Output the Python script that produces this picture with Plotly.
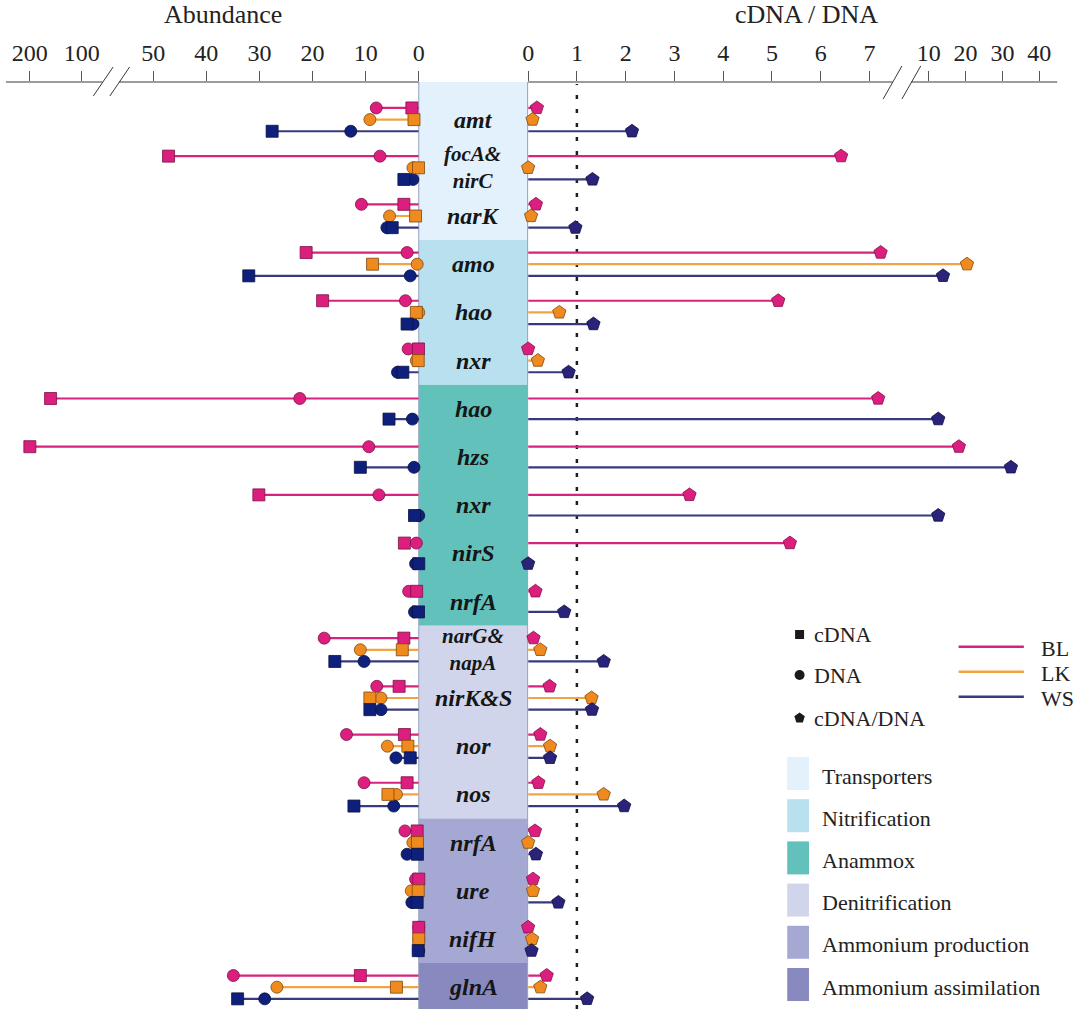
import plotly.graph_objects as go

W, H = 1080, 1009

# ---------------- data ----------------
genes = ["amt", "focA&<br>nirC", "narK", "amo", "hao", "nxr",
         "hao", "hzs", "nxr", "nirS", "nrfA",
         "narG&<br>napA", "nirK&S", "nor", "nos",
         "nrfA", "ure", "nifH", "glnA"]
gene_category = (["Transporters"] * 3 + ["Nitrification"] * 3 + ["Anammox"] * 5 +
                 ["Denitrification"] * 4 + ["Ammonium production"] * 3 +
                 ["Ammonium assimilation"])
categories = ["Transporters", "Nitrification", "Anammox", "Denitrification",
              "Ammonium production", "Ammonium assimilation"]
category_colors = ["#E2F1FB", "#B9E0EF", "#63C1BC", "#D0D5EB", "#A6A8D4", "#8789BF"]

left_ticks = [200, 100, 50, 40, 30, 20, 10, 0]
right_ticks = [0, 1, 2, 3, 4, 5, 6, 7, 10, 20, 30, 40]

sites = ["BL", "LK", "WS"]

BL_cDNA = [1.3, 47.1, 2.8, 21.2, 18.1, 0.05, 160, 200, 30.1, 2.7, 0.4, 2.8, 3.7, 2.7, 2.2, 0.3, 0.0, 0.0, 11.0]
BL_DNA = [8.0, 7.3, 10.8, 2.2, 2.5, 2.0, 22.4, 9.4, 7.5, 0.45, 1.9, 17.8, 7.9, 13.6, 10.3, 2.6, 0.6, 0.0, 34.9]
BL_ratio = [0.18, 6.42, 0.16, 7.23, 5.13, 0.0, 7.18, 18.2, 3.31, 5.37, 0.15, 0.11, 0.44, 0.25, 0.21, 0.14, 0.10, 0.0, 0.38]

LK_cDNA = [0.9, 0.05, 0.6, 8.7, 0.45, 0.1, None, None, None, None, None, 3.1, 9.2, 2.05, 5.8, 0.25, 0.1, 0.0, 4.2]
LK_DNA = [9.2, 1.1, 5.5, 0.3, 0.0, 0.45, None, None, None, None, None, 11.0, 7.1, 5.9, 4.2, 1.1, 1.4, 0.0, 26.7]
LK_ratio = [0.09, 0.0, 0.06, 20.4, 0.64, 0.2, None, None, None, None, None, 0.25, 1.30, 0.45, 1.55, 0.0, 0.10, 0.08, 0.25]

WS_cDNA = [27.6, 2.8, 5.0, 32.0, 2.2, 3.0, 5.6, 11.0, 0.8, 0.0, 0.05, 15.8, 9.2, 1.6, 12.2, 0.25, 0.3, 0.1, 34.1]
WS_DNA = [12.8, 1.1, 6.0, 1.6, 1.1, 4.0, 1.2, 0.9, 0.0, 0.6, 0.8, 10.3, 7.1, 4.3, 4.7, 2.2, 1.3, 0.0, 29.0]
WS_ratio = [2.13, 1.32, 0.97, 13.9, 1.34, 0.83, 12.6, 32.3, 12.6, 0.0, 0.74, 1.55, 1.31, 0.45, 1.97, 0.16, 0.62, 0.07, 1.21]

site_data = {
    "BL": (BL_cDNA, BL_DNA, BL_ratio),
    "LK": (LK_cDNA, LK_DNA, LK_ratio),
    "WS": (WS_cDNA, WS_DNA, WS_ratio),
}

# ---------------- style ----------------
FONT = "Liberation Serif"
TXT = "#222222"
site_line = {"BL": "#D7237F", "LK": "#F2A443", "WS": "#383A7C"}
site_fill = {"BL": "#DC1E7E", "LK": "#EE8A1E", "WS": "#0F207C"}
site_pent = {"BL": "#DC1E7E", "LK": "#EE8A1E", "WS": "#2B2379"}
site_edge = {"BL": "#7E1046", "LK": "#80470E", "WS": "#0A1240"}

# broken-axis scales (axis units)
PX_L = 5.372   # px per unit, left linear part
PX_R = 49.3    # px per unit, right linear part
X_L0 = 417.4   # px of left zero
X_R0 = 528.0   # px of right zero
X_R1 = 1063.0  # right axis end


def left_t(v):
    if v <= 60:
        return v
    return 63.46 + (v - 100) * 0.0975


def right_t(v):
    if v <= 8:
        return v
    return 8.215 + (v - 10) * 0.0757


ROW0, ROWH, TOP = 119.6, 48.2, 82.0
Y_TOP = (TOP - ROW0) / ROWH
Y_BOT = (H - ROW0) / ROWH


def row_y(i, site):
    if gene_category[i] == "Anammox":
        return i + {"BL": -0.214, "WS": 0.214}[site]
    return i + {"BL": -0.242, "LK": 0.0, "WS": 0.242}[site]


fig = go.Figure()

# lines (left: to farthest marker, right: to ratio)
for s in sites:
    c, d, r = site_data[s]
    xl, yl, xr, yr = [], [], [], []
    for i in range(len(genes)):
        if c[i] is None:
            continue
        yy = row_y(i, s)
        xl += [0, left_t(max(c[i], d[i])), None]
        yl += [yy, yy, None]
        xr += [0, right_t(r[i]), None]
        yr += [yy, yy, None]
    fig.add_trace(go.Scatter(x=xl, y=yl, mode="lines", xaxis="x", yaxis="y",
                             line=dict(color=site_line[s], width=2.2),
                             cliponaxis=False, hoverinfo="skip"))
    fig.add_trace(go.Scatter(x=xr, y=yr, mode="lines", xaxis="x2", yaxis="y",
                             line=dict(color=site_line[s], width=2.2),
                             cliponaxis=False, hoverinfo="skip"))

# DNA circles, cDNA squares, ratio pentagons
for kind, symbol, size in [("DNA", "circle", 12), ("cDNA", "square", 12)]:
    for s in sites:
        c, d, r = site_data[s]
        vals = d if kind == "DNA" else c
        xs, ys = [], []
        for i in range(len(genes)):
            if vals[i] is None:
                continue
            xs.append(left_t(vals[i]))
            ys.append(row_y(i, s))
        fig.add_trace(go.Scatter(x=xs, y=ys, mode="markers", xaxis="x", yaxis="y",
                                 marker=dict(symbol=symbol, size=size, color=site_fill[s],
                                             line=dict(color=site_edge[s], width=0.8)),
                                 cliponaxis=False, name=f"{s} {kind}"))

for s in sites:
    c, d, r = site_data[s]
    xs, ys = [], []
    for i in range(len(genes)):
        if r[i] is None:
            continue
        xs.append(right_t(r[i]))
        ys.append(row_y(i, s))
    fig.add_trace(go.Scatter(x=xs, y=ys, mode="markers", xaxis="x2", yaxis="y",
                             marker=dict(symbol="pentagon", size=14, color=site_pent[s],
                                         line=dict(color=site_edge[s], width=0.8)),
                             cliponaxis=False, name=f"{s} cDNA/DNA"))

# legend symbols on an overlay pixel axis
for sym, yy, sz in [("square", 634.5, 9), ("circle", 675, 10), ("pentagon", 718, 11)]:
    fig.add_trace(go.Scatter(x=[802.5], y=[yy], mode="markers", xaxis="x3", yaxis="y3",
                             marker=dict(symbol=sym, size=sz, color="#1a1a1a"),
                             hoverinfo="skip"))


def px(x):
    return x / W


def py(y):
    return 1 - y / H


shapes = []
annotations = []

# center strip by category
bounds = [Y_TOP]
for k in range(1, len(gene_category)):
    if gene_category[k] != gene_category[k - 1]:
        bounds.append(k - 0.5)
bounds.append(Y_BOT)
for k, cat in enumerate(categories):
    shapes.append(dict(type="rect", xref="paper", yref="y", x0=px(X_L0), x1=px(527.5),
                       y0=bounds[k], y1=bounds[k + 1], fillcolor=category_colors[k],
                       line=dict(width=0), layer="below"))
for xe in (X_L0, 527.5):
    shapes.append(dict(type="line", xref="paper", yref="paper", x0=px(xe), x1=px(xe),
                       y0=0, y1=py(TOP), line=dict(color="#93A2BF", width=1), layer="below"))

# dotted reference line at ratio = 1
shapes.append(dict(type="line", xref="x2", yref="paper", x0=1, x1=1, y0=0, y1=py(TOP + 2),
                   line=dict(color="#1e1e1e", width=2.5, dash="4px,10px"), layer="below"))

# axis lines with breaks
for a, b in [(0, 97.7), (114.4, X_L0), (X_R0, 896.7), (915.5, X_R1)]:
    shapes.append(dict(type="line", xref="paper", yref="paper", x0=px(a), x1=px(b),
                       y0=py(TOP), y1=py(TOP), line=dict(color="#3a3a3a", width=1.2)))
for (x0, y0, x1, y1) in [(88.3, 96, 108.3, 67), (105, 96, 125, 67),
                         (887, 99, 906, 66), (906, 99, 925, 66)]:
    shapes.append(dict(type="line", xref="paper", yref="paper", x0=px(x0), x1=px(x1),
                       y0=py(y0), y1=py(y1), line=dict(color="#3a3a3a", width=1)))

# gene labels
for i, g in enumerate(genes):
    parts = g.split("<br>")
    txt = "<br>".join(f"<b><i>{p}</i></b>" for p in parts)
    annotations.append(dict(x=px(472.5), xref="paper", y=i, yref="y",
                            text=txt, showarrow=False,
                            font=dict(family=FONT, size=24 if len(parts) == 1 else 21,
                                      color="#161616"),
                            xanchor="center", yanchor="middle"))

# axis titles
annotations.append(dict(x=px(219.5), y=py(15), xref="paper", yref="paper", text="Abundance",
                        showarrow=False, xanchor="center", yanchor="middle",
                        font=dict(family=FONT, size=26, color=TXT)))
annotations.append(dict(x=px(809), y=py(15), xref="paper", yref="paper", text="cDNA / DNA",
                        showarrow=False, xanchor="center", yanchor="middle",
                        font=dict(family=FONT, size=26, color=TXT)))

# symbol legend texts
for txt, yy in [("cDNA", 634), ("DNA", 675.5), ("cDNA/DNA", 718.5)]:
    annotations.append(dict(x=px(815), y=py(yy), xref="paper", yref="paper", text=txt,
                            showarrow=False, xanchor="left", yanchor="middle",
                            font=dict(family=FONT, size=22, color=TXT)))

# site legend
for s, yy in zip(sites, [646.7, 671.7, 696.7]):
    shapes.append(dict(type="line", xref="paper", yref="paper", x0=px(963.3), x1=px(1029.3),
                       y0=py(yy), y1=py(yy), line=dict(color=site_line[s], width=2.4)))
    annotations.append(dict(x=px(1045), y=py(yy + 1.5), xref="paper", yref="paper", text=s,
                            showarrow=False, xanchor="left", yanchor="middle",
                            font=dict(family=FONT, size=22, color=TXT)))

# category legend
for k, cat in enumerate(categories):
    yc = 773.5 + 42.2 * k
    shapes.append(dict(type="rect", xref="paper", yref="paper", x0=px(790), x1=px(812),
                       y0=py(yc - 16.5), y1=py(yc + 16.5), fillcolor=category_colors[k],
                       line=dict(width=0)))
    annotations.append(dict(x=px(823), y=py(yc + 2.5), xref="paper", yref="paper", text=cat,
                            showarrow=False, xanchor="left", yanchor="middle",
                            font=dict(family=FONT, size=22, color=TXT)))

tickfont = dict(family=FONT, size=24, color=TXT)
fig.update_layout(
    width=W, height=H, margin=dict(l=0, r=0, t=0, b=0),
    paper_bgcolor="white", plot_bgcolor="rgba(0,0,0,0)", showlegend=False,
    xaxis=dict(domain=[0, px(X_L0)], range=[X_L0 / PX_L, 0], side="top", anchor="y",
               tickmode="array", tickvals=[left_t(v) for v in left_ticks],
               ticktext=[str(v) for v in left_ticks], ticks="outside", ticklen=10,
               tickwidth=1, tickcolor="#555", showgrid=False, zeroline=False,
               showline=False, tickfont=tickfont, fixedrange=True),
    xaxis2=dict(domain=[px(X_R0), px(X_R1)], range=[0, (X_R1 - X_R0) / PX_R], side="top",
                anchor="y", tickmode="array", tickvals=[right_t(v) for v in right_ticks],
                ticktext=[str(v) for v in right_ticks], ticks="outside", ticklen=10,
                tickwidth=1, tickcolor="#555", showgrid=False, zeroline=False,
                showline=False, tickfont=tickfont, fixedrange=True),
    yaxis=dict(domain=[0, py(TOP)], range=[Y_BOT, Y_TOP], visible=False, fixedrange=True),
    xaxis3=dict(domain=[0, 1], range=[0, W], visible=False, anchor="y3", fixedrange=True),
    yaxis3=dict(domain=[0, 1], range=[H, 0], visible=False, anchor="x3", fixedrange=True),
    shapes=shapes, annotations=annotations,
)

fig.write_html("out.html", config={"displayModeBar": False},
               post_script="document.body.style.margin='0px';document.body.style.overflow='hidden';")
